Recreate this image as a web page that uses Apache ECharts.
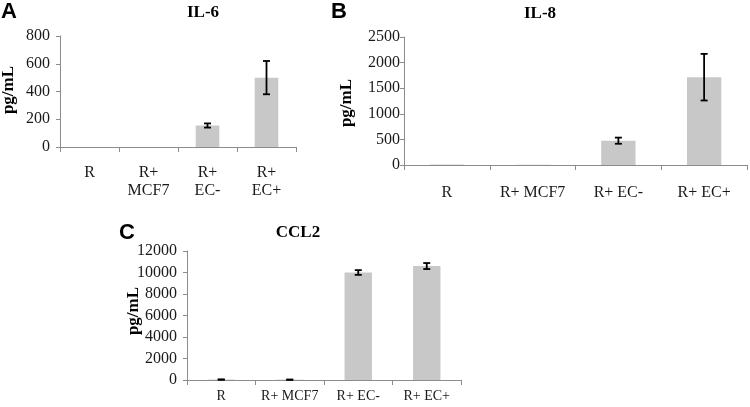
<!DOCTYPE html>
<html><head><meta charset="utf-8">
<script src="https://cdn.jsdelivr.net/npm/echarts@6/dist/echarts.min.js"></script>
<style>html,body{margin:0;padding:0;background:#fff}#c{width:750px;height:407px}</style>
</head><body><div id="c"></div>
<script>
const catsA = ['R', 'R+\nMCF7', 'R+\nEC-', 'R+\nEC+'];
const catsBC = ['R', 'R+ MCF7', 'R+ EC-', 'R+ EC+'];
const il6 = [0, 0, 155, 500];
const il6Err = [0, 0, 15, 120];
const il8 = [8, 5, 475, 1715];
const il8Err = [0, 0, 60, 455];
const ccl2 = [40, 30, 10000, 10600];
const ccl2Err = [15, 10, 220, 280];
const yA = {min: 0, max: 800, interval: 200};
const yB = {min: 0, max: 2500, interval: 500};
const yC = {min: 0, max: 12000, interval: 2000};

const serif = '"Liberation Serif", "DejaVu Serif", serif';
const sans = '"Liberation Sans", Arial, sans-serif';
const axisGrey = '#8c8c8c';
const barColor = '#c8c8c8';

function xAxis(idx, cats, margin, fs) {
  return {type: 'category', gridIndex: idx, data: cats,
    axisLine: {lineStyle: {color: axisGrey, width: 1}},
    axisTick: {show: true, length: 5, lineStyle: {color: axisGrey}},
    axisLabel: {interval: 0, color: '#1a1a1a', fontFamily: serif, fontSize: fs, margin: margin, lineHeight: 18}};
}
function yAxis(idx, r, margin) {
  return {type: 'value', gridIndex: idx, min: r.min, max: r.max, interval: r.interval,
    splitLine: {show: false},
    axisLine: {show: true, lineStyle: {color: axisGrey, width: 1}},
    axisTick: {show: true, length: 4, lineStyle: {color: axisGrey}},
    axisLabel: {color: '#1a1a1a', fontFamily: serif, fontSize: 16, margin: margin,
      formatter: v => String(v)}};
}
function bars(idx, vals) {
  return {type: 'bar', xAxisIndex: idx, yAxisIndex: idx, data: vals, barWidth: '40%',
    itemStyle: {color: barColor}, silent: true};
}
function errs(idx, vals, e) {
  return {type: 'custom', xAxisIndex: idx, yAxisIndex: idx, silent: true, z: 5,
    data: vals.map((v, i) => [i, v - e[i], v + e[i]]),
    renderItem: function (params, api) {
      if (api.value(2) - api.value(1) <= 0) return null;
      const lo = api.coord([api.value(0), api.value(1)]);
      const hi = api.coord([api.value(0), api.value(2)]);
      const w = 3.5;
      const st = {stroke: '#000', lineWidth: 1.8};
      return {type: 'group', children: [
        {type: 'line', shape: {x1: hi[0], y1: hi[1], x2: lo[0], y2: lo[1]}, style: st},
        {type: 'line', shape: {x1: hi[0] - w, y1: hi[1], x2: hi[0] + w, y2: hi[1]}, style: st},
        {type: 'line', shape: {x1: lo[0] - w, y1: lo[1], x2: lo[0] + w, y2: lo[1]}, style: st}
      ]};
    }};
}
function txt(x, y, s, font, size, rot) {
  return {type: 'text', x: x, y: y, rotation: rot || 0,
    style: {text: s, font: 'bold ' + size + 'px ' + font, fill: '#000', align: 'center', verticalAlign: 'middle'}};
}

const chart = echarts.init(document.getElementById('c'), null, {renderer: 'canvas'});
chart.setOption({
  animation: false,
  grid: [
    {left: 60, top: 36, width: 236, height: 111},
    {left: 404, top: 37, width: 343, height: 128},
    {left: 187, top: 251, width: 274, height: 129}
  ],
  xAxis: [xAxis(0, catsA, 17, 16), xAxis(1, catsBC, 19, 16), xAxis(2, catsBC, 7, 14)],
  yAxis: [yAxis(0, yA, 10), yAxis(1, yB, 4), yAxis(2, yC, 10)],
  series: [bars(0, il6), errs(0, il6, il6Err), bars(1, il8), errs(1, il8, il8Err), bars(2, ccl2), errs(2, ccl2, ccl2Err)],
  graphic: [
    txt(9, 12, 'A', sans, 22), txt(203, 13, 'IL-6', serif, 17), txt(9, 90, 'pg/mL', serif, 17, Math.PI / 2),
    txt(339, 12, 'B', sans, 22), txt(540, 14, 'IL-8', serif, 17), txt(347, 103, 'pg/mL', serif, 17, Math.PI / 2),
    txt(127, 233, 'C', sans, 22), txt(298, 233, 'CCL2', serif, 17), txt(134, 311, 'pg/mL', serif, 17, Math.PI / 2)
  ]
});
</script></body></html>
